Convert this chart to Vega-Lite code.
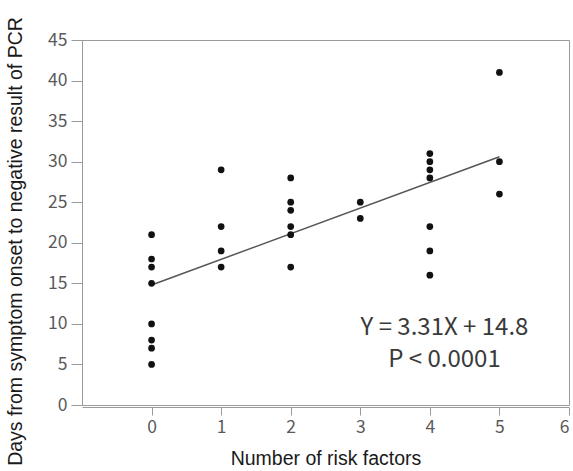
{
  "$schema": "https://vega.github.io/schema/vega-lite/v6.json",
  "width": 487,
  "height": 365,
  "autosize": "none",
  "padding": {"left": 82, "top": 40, "right": 4, "bottom": 66},
  "background": "white",
  "config": {
    "view": {"stroke": "#9a9a9a", "strokeWidth": 1},
    "axis": {
      "grid": false,
      "domainColor": "#9a9a9a",
      "tickColor": "#9a9a9a",
      "labelColor": "#5a5a5a",
      "labelFont": "Noto Sans CJK JP",
      "labelFontSize": 17.5,
      "titleFont": "Liberation Sans",
      "titleFontWeight": "normal",
      "titleFontSize": 19.5,
      "titleColor": "#1a1a1a"
    }
  },
  "datasets": {
    "pts": [
      {"risk": 0, "days": 21}, {"risk": 0, "days": 18}, {"risk": 0, "days": 17}, {"risk": 0, "days": 15},
      {"risk": 0, "days": 10}, {"risk": 0, "days": 8}, {"risk": 0, "days": 7}, {"risk": 0, "days": 5},
      {"risk": 1, "days": 29}, {"risk": 1, "days": 22}, {"risk": 1, "days": 19}, {"risk": 1, "days": 17},
      {"risk": 2, "days": 28}, {"risk": 2, "days": 25}, {"risk": 2, "days": 24}, {"risk": 2, "days": 22},
      {"risk": 2, "days": 21}, {"risk": 2, "days": 17},
      {"risk": 3, "days": 25}, {"risk": 3, "days": 23},
      {"risk": 4, "days": 31}, {"risk": 4, "days": 30}, {"risk": 4, "days": 29}, {"risk": 4, "days": 28},
      {"risk": 4, "days": 22}, {"risk": 4, "days": 19}, {"risk": 4, "days": 16},
      {"risk": 5, "days": 41}, {"risk": 5, "days": 30}, {"risk": 5, "days": 26}
    ],
    "fit": [
      {"risk": 0, "days": 14.8},
      {"risk": 5, "days": 30.6}
    ],
    "note": [
      {"line": "Y = 3.31X + 14.8", "row": 9.5},
      {"line": "P < 0.0001", "row": 5.6}
    ]
  },
  "layer": [
    {
      "data": {"name": "fit"},
      "mark": {"type": "line", "color": "#555555", "strokeWidth": 1.5},
      "encoding": {
        "x": {"field": "risk", "type": "quantitative",
              "scale": {"domain": [-1, 6], "nice": false, "zero": false},
              "axis": {"values": [0, 1, 2, 3, 4, 5, 6], "format": "d", "title": "Number of risk factors",
                       "tickSize": 8, "offset": 2, "labelPadding": 3, "titlePadding": 14}},
        "y": {"field": "days", "type": "quantitative",
              "scale": {"domain": [0, 45], "nice": false},
              "axis": {"values": [0, 5, 10, 15, 20, 25, 30, 35, 40, 45], "format": "d",
                       "title": "Days from symptom onset to  negative result of PCR",
                       "tickSize": 11, "labelPadding": 4, "titlePadding": 22, "titleY": 201}}
      }
    },
    {
      "data": {"name": "pts"},
      "mark": {"type": "circle", "color": "#111111", "opacity": 1, "size": 45},
      "encoding": {
        "x": {"field": "risk", "type": "quantitative"},
        "y": {"field": "days", "type": "quantitative"}
      }
    },
    {
      "data": {"name": "note"},
      "mark": {"type": "text", "font": "Noto Sans CJK JP", "fontSize": 24, "color": "#3a3a3a", "align": "center", "baseline": "middle"},
      "encoding": {
        "x": {"datum": 4.21, "type": "quantitative"},
        "y": {"field": "row", "type": "quantitative"},
        "text": {"field": "line"}
      }
    }
  ]
}
